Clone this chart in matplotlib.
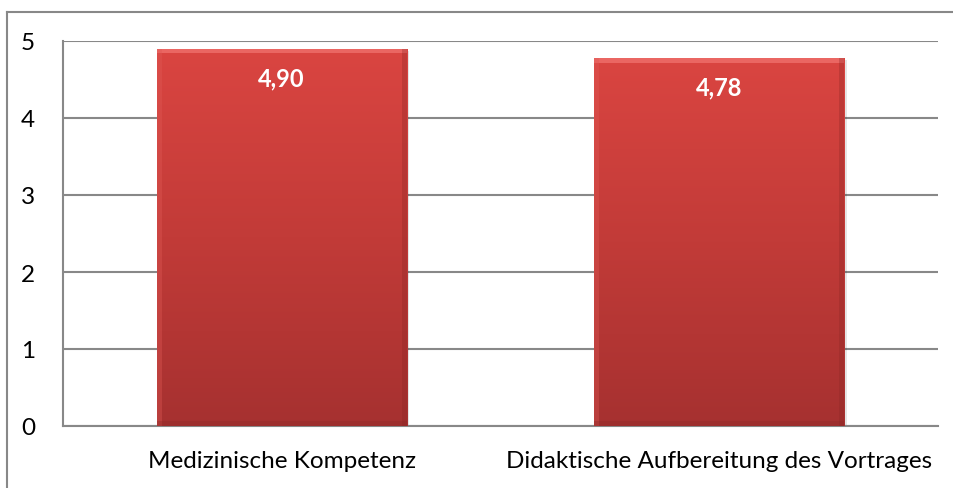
import numpy as np
import matplotlib
matplotlib.use('Agg')
import matplotlib.pyplot as plt
from matplotlib.colors import LinearSegmentedColormap
from matplotlib.lines import Line2D

# --- data ---
categories = ['Medizinische Kompetenz', 'Didaktische Aufbereitung des Vortrages']
values = [4.90, 4.78]
y_ticks = [0, 1, 2, 3, 4, 5]

plt.rcParams['font.family'] = ['Lato', 'DejaVu Sans']

fig = plt.figure(figsize=(9.54, 4.89), dpi=100)
fig.patch.set_facecolor('white')
ax = fig.add_axes([63 / 954, 1 - 427 / 489, (938 - 63) / 954, (427 - 42) / 489])

x = np.arange(len(categories))
width = 0.572
bars = ax.bar(x, values, width=width, color='none', edgecolor='none', zorder=3)

# red vertical gradient, lighter at the top
cmap = LinearSegmentedColormap.from_list('red_grad', ['#a63130', '#c23b38', '#da4541'])
grad = np.linspace(0, 1, 256).reshape(-1, 1)
for b in bars:
    x0, w, h = b.get_x(), b.get_width(), b.get_height()
    # soft shadow
    ax.bar(x0 + w / 2 + 0.005, h, width=w, bottom=-0.025, color='#000000', alpha=0.10, zorder=2)
    im = ax.imshow(grad, extent=[x0, x0 + w, 0, h], origin='lower', cmap=cmap,
                   aspect='auto', zorder=3)
    im.set_clip_path(b)
    # bevel edges
    ax.bar(x0 + w / 2, 0.06, width=w, bottom=h - 0.06, color='#f27571', alpha=0.7, zorder=4)
    ax.bar(x0 + 0.006, h, width=0.012, color='#e05a56', alpha=0.35, zorder=4)
    ax.bar(x0 + w - 0.006, h, width=0.012, color='#8a2624', alpha=0.3, zorder=4)
    ax.bar(x0 + w / 2, 0.06, width=w, bottom=0, color='#8e2a28', alpha=0.35, zorder=4)

for xi, v in zip(x, values):
    ax.annotate(f'{v:.2f}'.replace('.', ','), (xi, v), xytext=(0, -29),
                textcoords='offset pixels', ha='center', va='center',
                color='white', fontsize=17, fontweight='bold', zorder=5)

ax.set_xlim(-0.5, 1.5)
ax.set_ylim(0, 5)
ax.set_yticks(y_ticks)
ax.set_yticklabels([str(t) for t in y_ticks], fontsize=17.5)
ax.set_xticks(x)
ax.set_xticklabels(categories, fontsize=17.5)
ax.tick_params(axis='both', length=0, colors='#000000')
ax.tick_params(axis='y', pad=20)
ax.tick_params(axis='x', pad=17)
ax.yaxis.grid(True, color='#888888', linewidth=1.5, zorder=1)
ax.set_axisbelow(True)
for s in ['top', 'right']:
    ax.spines[s].set_visible(False)
ax.spines['left'].set_color('#888888')
ax.spines['left'].set_linewidth(1.5)
ax.spines['bottom'].set_color('#888888')
ax.spines['bottom'].set_linewidth(1.5)

# outer chart frame (only top and left visible)
fig.add_artist(Line2D([7 / 954, 7 / 954], [0, 1 - 13 / 489], color='#888888', linewidth=1.5))
fig.add_artist(Line2D([7 / 954, 1], [1 - 13 / 489, 1 - 13 / 489], color='#888888', linewidth=1.5))

fig.savefig('out.png', dpi=100, facecolor='white')
